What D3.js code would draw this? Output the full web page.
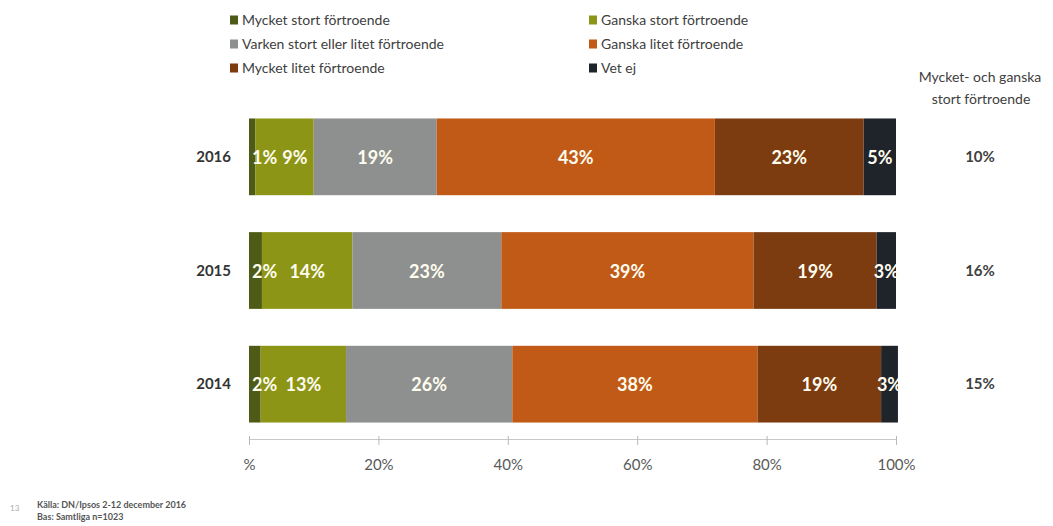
<!DOCTYPE html>
<html>
<head>
  <meta charset="utf-8">
  <style>
    body { margin: 0; background: #fff; }
    text { font-family: Lato, "Open Sans", sans-serif; }
  </style>
  <title>Förtroende 2014-2016</title>
  <script src="https://cdn.jsdelivr.net/npm/d3@7"></script>
</head>
<body>
<script>
  // Data (labels are the rounded values)
  const years = ["2016", "2015", "2014"];
  const categories = ["Mycket stort förtroende", "Ganska stort förtroende",
    "Varken stort eller litet förtroende", "Ganska litet förtroende",
    "Mycket litet förtroende", "Vet ej"];
  const colors = ["#4e5b16", "#8c9516", "#8d908f", "#c05a16", "#7c3c10", "#1f232a"];
  const values2016 = [1, 9, 19, 43, 23, 5];
  const values2015 = [2, 14, 23, 39, 19, 3];
  const values2014 = [1.8, 13.2, 25.7, 37.9, 19.1, 2.6];
  const sumStort = [10, 16, 15];
  const tickValues = [0, 20, 40, 60, 80, 100];
  const tickLabels = ["%", "20%", "40%", "60%", "80%", "100%"];

  const W = 1053, H = 526;
  const svg = d3.select("body").append("svg")
      .attr("width", W)
      .attr("height", H);

  const x = d3.scaleLinear().domain([0, 100]).range([249, 896]);
  const y = d3.scaleBand().domain(years).range([100, 441])
      .paddingInner(0.325).paddingOuter(0.1625);

  const rows = [values2016, values2015, values2014].map((vals, i) => {
    let acc = 0;
    return vals.map((v, j) => {
      const d = {year: years[i], cat: j, v: v, x0: acc};
      acc += v;
      return d;
    });
  });

  svg.append("clipPath").attr("id", "plot")
    .append("rect").attr("x", 0).attr("y", 0).attr("width", x(100) + 2).attr("height", H);

  // bars
  const g = svg.append("g").attr("id", "bars");
  rows.forEach(row => {
    g.selectAll(null).data(row).enter().append("rect")
      .attr("x", d => x(d.x0))
      .attr("y", d => y(d.year))
      .attr("width", d => x(d.x0 + d.v) - x(d.x0))
      .attr("height", y.bandwidth())
      .attr("fill", d => colors[d.cat]);
  });

  // value labels, small first label starts at the bar edge, next label pushed right if needed
  const lg = svg.append("g").attr("clip-path", "url(#plot)");
  rows.forEach(row => {
    let prevEnd = -Infinity;
    lg.selectAll(null).data(row).enter().append("text")
      .attr("y", d => y(d.year) + y.bandwidth() / 2 + 1)
      .attr("dy", "0.35em")
      .attr("text-anchor", "start")
      .attr("fill", "#fffcee")
      .style("font-size", "18px")
      .style("font-weight", "bold")
      .text(d => Math.round(d.v) + "%")
      .each(function(d) {
        const w = this.getComputedTextLength();
        let left = d.cat === 0 && d.v < 3 ? x(d.x0) + 3
                 : (x(d.x0) + x(d.x0 + d.v)) / 2 - w / 2;
        if (left < prevEnd + 5) left = prevEnd + 5;
        d3.select(this).attr("x", left);
        prevEnd = left + w;
      });
  });

  // year labels
  svg.selectAll(".year").data(years).enter().append("text")
    .attr("class", "year")
    .attr("x", 231)
    .attr("y", d => y(d) + y.bandwidth() / 2)
    .attr("dy", "0.35em")
    .attr("text-anchor", "end")
    .attr("fill", "#333")
    .style("font-size", "15px")
    .style("font-weight", "bold")
    .text(d => d);

  // x axis
  const axis = svg.append("g")
      .attr("transform", "translate(0,439)")
      .call(d3.axisBottom(x).tickValues(tickValues).tickSize(6).tickSizeOuter(0)
        .tickFormat((d, i) => tickLabels[i]));
  axis.select(".domain").attr("stroke", "#c8c8c8");
  axis.selectAll(".tick line").attr("stroke", "#b8b8b8").attr("y1", -3);
  axis.selectAll(".tick text")
      .attr("y", 20)
      .attr("fill", "#595959")
      .style("font-size", "15px");

  // legend
  const leg = svg.append("g").attr("id", "legend");
  const legItems = leg.selectAll("g").data(categories).enter().append("g")
      .attr("transform", (d, i) => {
        const col = i % 2;
        const row = Math.floor(i / 2);
        return "translate(" + (col ? 589 : 230) + "," + (20 + row * 24) + ")";
      });
  legItems.append("rect")
      .attr("x", 0).attr("y", -4.5).attr("width", 8).attr("height", 9)
      .attr("fill", (d, i) => colors[i]);
  legItems.append("text")
      .attr("x", 12).attr("dy", "0.35em")
      .attr("fill", "#404040")
      .style("font-size", "14px")
      .text(d => d);

  // right column
  svg.append("text").attr("x", 980).attr("y", 82).attr("text-anchor", "middle")
    .attr("fill", "#404040").style("font-size", "14px").text("Mycket- och ganska");
  svg.append("text").attr("x", 981).attr("y", 104).attr("text-anchor", "middle")
    .attr("fill", "#404040").style("font-size", "14px").text("stort förtroende");
  svg.selectAll(".sum").data(sumStort).enter().append("text")
    .attr("class", "sum")
    .attr("x", 980)
    .attr("y", (d, i) => y(years[i]) + y.bandwidth() / 2)
    .attr("dy", "0.35em")
    .attr("text-anchor", "middle")
    .attr("fill", "#404040")
    .style("font-size", "15px")
    .style("font-weight", "bold")
    .text(d => d + "%");

  // footer
  svg.append("text").attr("x", 10).attr("y", 511).attr("fill", "#aaa")
    .style("font-size", "8px").text("13");
  svg.append("text").attr("x", 37).attr("y", 508).attr("fill", "#555")
    .style("font-size", "9px").style("font-weight", "bold").text("Källa: DN/Ipsos 2-12 december 2016");
  svg.append("text").attr("x", 37).attr("y", 520).attr("fill", "#555")
    .style("font-size", "9px").style("font-weight", "bold").text("Bas: Samtliga n=1023");
</script>
</body>
</html>
